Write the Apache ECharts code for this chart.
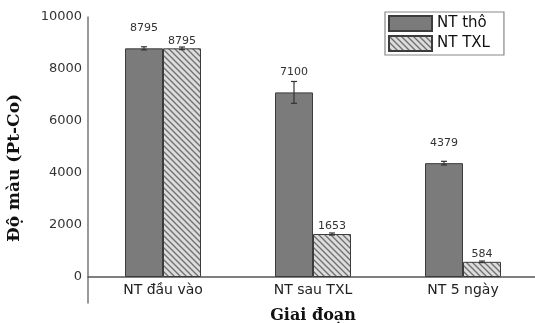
<!DOCTYPE html>
<html>
<head>
<meta charset="utf-8">
<script src="https://cdn.jsdelivr.net/npm/echarts@6/dist/echarts.min.js"></script>
<style>html,body{margin:0;padding:0;background:#fff}#c{width:535px;height:323px}</style>
</head>
<body>
<div id="c"></div>
<script>
var categories = ['NT đầu vào', 'NT sau TXL', 'NT 5 ngày'];
var seriesNames = ['NT thô', 'NT TXL'];
var rawValues = [8795, 7100, 4379];
var treatedValues = [8795, 1653, 584];
var rawErrors = [60, 420, 70];
var treatedErrors = [50, 40, 30];
var yTickLabels = [0, 2000, 4000, 6000, 8000, 10000];

function hatch() {
  var c = document.createElement('canvas');
  c.width = 6; c.height = 6;
  var g = c.getContext('2d');
  g.fillStyle = '#dcdcdc';
  g.fillRect(0, 0, 6, 6);
  g.strokeStyle = '#6e6e6e';
  g.lineWidth = 1.3;
  g.beginPath();
  g.moveTo(-1, -1); g.lineTo(7, 7);
  g.moveTo(-4, 2); g.lineTo(4, 10);
  g.moveTo(2, -4); g.lineTo(10, 4);
  g.stroke();
  return c;
}
var hatchPattern = { image: hatch(), repeat: 'repeat' };

var BW = 38;
function errSeries(values, errors, offset) {
  return {
    type: 'custom',
    silent: true,
    z: 5,
    data: values.map(function (v, i) { return [i, v, errors[i]]; }),
    renderItem: function (params, api) {
      var i = api.value(0), v = api.value(1), e = api.value(2);
      var hi = api.coord([i, v + e]);
      var lo = api.coord([i, v - e]);
      var x = hi[0] + offset;
      var st = { stroke: '#333', lineWidth: 1.2 };
      return {
        type: 'group',
        children: [
          { type: 'line', shape: { x1: x, y1: hi[1], x2: x, y2: lo[1] }, style: st },
          { type: 'line', shape: { x1: x - 3, y1: hi[1], x2: x + 3, y2: hi[1] }, style: st },
          { type: 'line', shape: { x1: x - 3, y1: lo[1], x2: x + 3, y2: lo[1] }, style: st }
        ]
      };
    }
  };
}

var chart = echarts.init(document.getElementById('c'));
chart.setOption({
  animation: false,
  grid: { left: 88, top: 17, width: 450, bottom: 20, containLabel: false, outerBoundsMode: 'none' },
  legend: {
    orient: 'vertical',
    left: 385, top: 12,
    padding: [3, 14, 3, 3],
    itemWidth: 43, itemHeight: 15, itemGap: 3,
    borderColor: '#888', borderWidth: 1.2,
    textStyle: { fontFamily: 'DejaVu Sans', fontSize: 15, color: '#111' },
    data: seriesNames.map(function (n) { return { name: n, icon: 'rect' }; })
  },
  xAxis: {
    type: 'category',
    data: categories,
    position: 'bottom',
    offset: -26,
    axisLine: { onZero: false, lineStyle: { color: '#555', width: 1.5 } },
    axisTick: { show: false },
    axisLabel: { fontFamily: 'DejaVu Sans', fontSize: 14, color: '#222', margin: 6 },
    name: 'Giai đoạn',
    nameLocation: 'middle',
    nameGap: 31,
    nameTextStyle: { fontFamily: 'DejaVu Serif', fontWeight: 'bold', fontSize: 16, color: '#111' }
  },
  yAxis: {
    type: 'value',
    min: -1000, max: 10000, interval: 1000,
    axisLine: { show: true, lineStyle: { color: '#777', width: 1.5 } },
    axisTick: { show: false },
    splitLine: { show: false },
    axisLabel: {
      fontFamily: 'DejaVu Sans', fontSize: 13, color: '#333', margin: 6,
      formatter: function (v) { return yTickLabels.indexOf(v) >= 0 ? String(v) : ''; }
    },
    name: 'Độ màu (Pt-Co)',
    nameLocation: 'middle',
    nameGap: 65,
    nameTextStyle: { fontFamily: 'DejaVu Serif', fontWeight: 'bold', fontSize: 17, color: '#111', padding: [0, 16, 0, 0] }
  },
  series: [
    {
      name: seriesNames[0], type: 'bar', data: rawValues, barWidth: BW, barGap: '0%',
      itemStyle: { color: '#7b7b7b', borderColor: '#3c3c3c', borderWidth: 1 },
      label: { show: true, position: 'top', distance: 15, fontFamily: 'DejaVu Sans', fontSize: 11, color: '#333' }
    },
    {
      name: seriesNames[1], type: 'bar', data: treatedValues, barWidth: BW, barGap: '0%',
      itemStyle: { color: hatchPattern, borderColor: '#3c3c3c', borderWidth: 1 },
      label: { show: true, position: 'top', distance: 2, fontFamily: 'DejaVu Sans', fontSize: 11, color: '#333' }
    },
    errSeries(rawValues, rawErrors, -BW / 2),
    errSeries(treatedValues, treatedErrors, BW / 2)
  ]
});
</script>
</body>
</html>
